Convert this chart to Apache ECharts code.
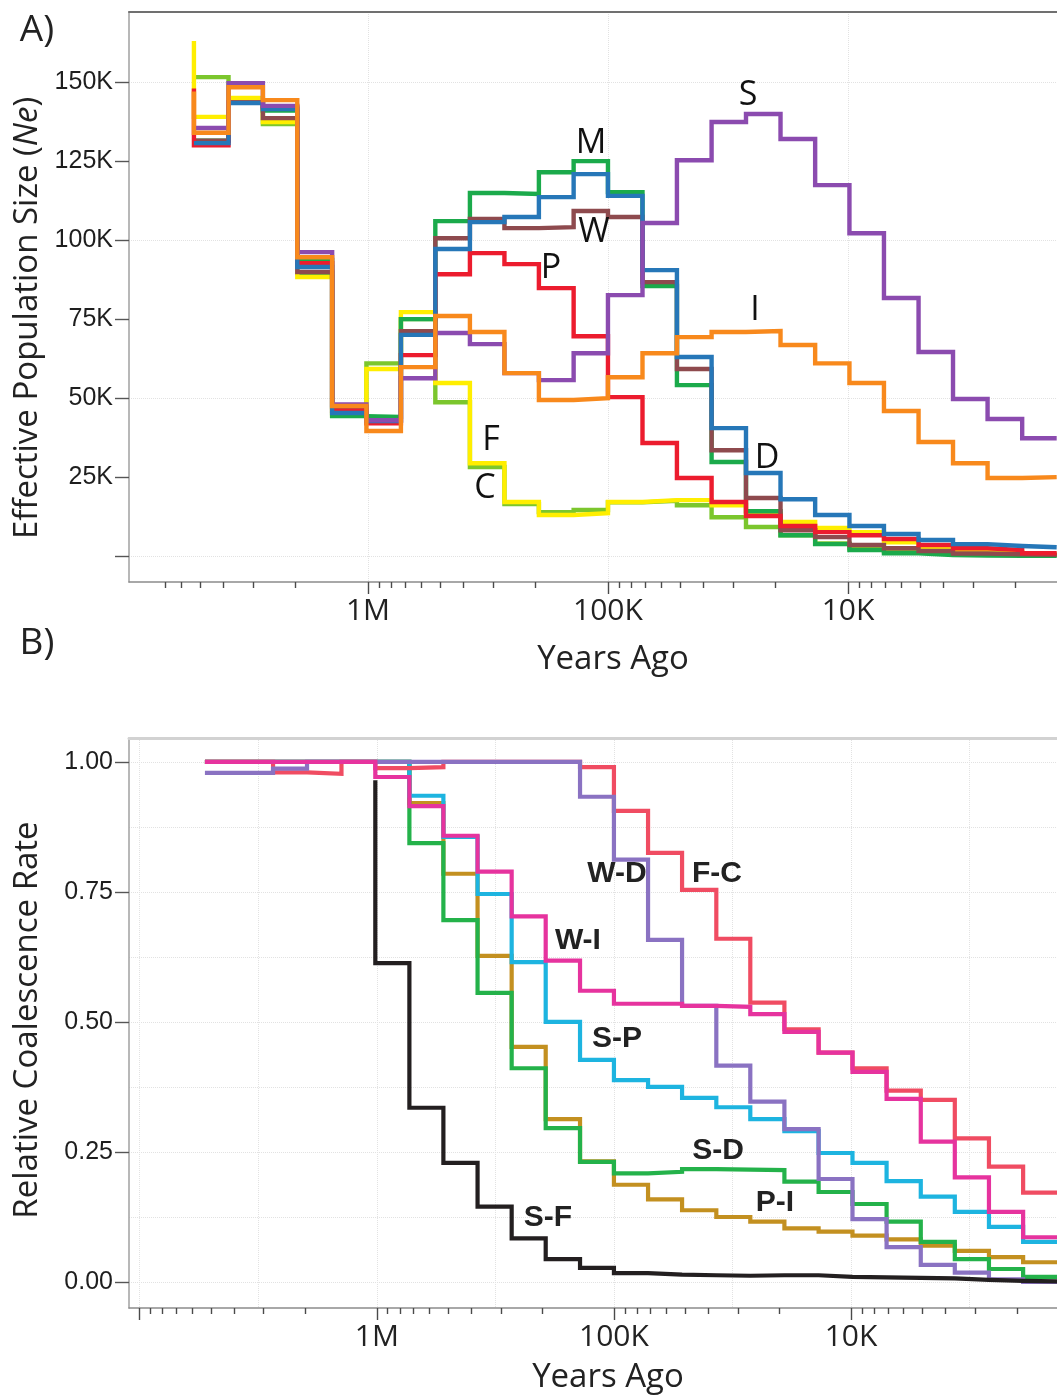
<!DOCTYPE html>
<html>
<head>
<meta charset="utf-8">
<script src="https://cdn.jsdelivr.net/npm/echarts@6/dist/echarts.min.js"></script>
<style>
  html, body { margin: 0; padding: 0; background: #fff; }
  #chart { width: 1057px; height: 1395px; }
</style>
</head>
<body>
<div id="chart"></div>
<script>
// Time-segment boundaries in years ago, oldest first (25 segments).
const segmentEdges = [5310000, 3810000, 2740000, 1970000, 1410000, 1015000, 729000, 524000,
  376000, 270000, 194000, 139000, 100000, 71800, 51600, 37000, 26600, 19100, 13700, 9860,
  7080, 5080, 3650, 2620, 1880, 1350];

// Panel A: effective population size per segment, in thousands.
const neF = [151.6, 144, 136.7, 89.5, 44.5, 61, 75, 48.7, 28.2, 16.5, 13.9, 14.6, 17, 17.5, 16.1, 12.3, 9.2, 6.6, 4, 2.5, 1.5, 0.9, 0.6, 0.4, 0.3];
const neC = [139, 145, 137.4, 88.3, 45, 59.2, 77.2, 54.8, 29.4, 17.1, 13, 13.6, 17.1, 17.7, 17.7, 16.1, 13.3, 10.8, 8.9, 7.6, 4.4, 2.8, 1.9, 1.3, 0.6];
const neM = [131.5, 143.5, 141, 93.7, 44.3, 44, 75, 106, 114.9, 114.6, 121.5, 125, 115.2, 85.5, 54.1, 29.8, 14.2, 6.6, 3.8, 1.9, 0.9, 0.3, 0.2, 0.1, 0.1];
const neW = [131.5, 143.5, 138.6, 89.9, 47.2, 43, 71.2, 100.6, 106.7, 103.8, 104.1, 109.2, 107.3, 86.7, 59.2, 33.5, 18.4, 8.2, 6, 3.5, 2.5, 1.6, 0.8, 0.6, 0.4];
const neP = [130, 143.5, 142, 92.7, 46, 42, 63.6, 89.2, 95.9, 92.4, 84.8, 69.6, 50.3, 35.8, 24.7, 17.1, 12.7, 9.5, 7.6, 6.6, 5.4, 3.5, 2.5, 1.9, 0.9];
const neD = [130.7, 143.4, 141.5, 91.5, 45.3, 42.7, 70, 97.2, 105.7, 107.3, 113.6, 120.9, 114, 90.5, 63, 40.5, 26.3, 18, 13, 9.5, 7, 5.1, 3.8, 3.2, 2.8];
const neS = [135.5, 149.7, 142.5, 96.2, 48, 43, 56.3, 70.6, 67.1, 57.9, 55.7, 64.2, 82.6, 105.4, 125.3, 137.4, 139.9, 132, 117.4, 102.2, 81.7, 64.6, 49.7, 43.4, 37.3];
const neI = [134, 148.4, 144.3, 94.6, 47.5, 39.6, 59.8, 76, 70.9, 57.9, 49.4, 50, 56.6, 64.2, 69.3, 70.9, 71.2, 66.8, 61, 54.8, 45.9, 36.1, 29.4, 24.7, 25];
// Values just before the oldest segment (short leading rise), where present.
const neLeadC = 163;
const neLeadP = 148;
const neLeadI = 147;

// Panel B: relative cross-coalescence rate per segment.
const rcPI = [1, 1, 1, 1, 1, 1, 0.921, 0.785, 0.627, 0.452, 0.313, 0.232, 0.187, 0.159, 0.138, 0.125, 0.116, 0.103, 0.097, 0.089, 0.082, 0.07, 0.06, 0.048, 0.038];
const rcSD = [1, 1, 1, 1, 1, 1, 0.844, 0.696, 0.556, 0.411, 0.296, 0.231, 0.209, 0.212, 0.217, 0.216, 0.215, 0.193, 0.173, 0.15, 0.116, 0.077, 0.044, 0.025, 0.01];
const rcSP = [1, 1, 1, 1, 1, 1, 0.935, 0.856, 0.746, 0.615, 0.5, 0.427, 0.388, 0.375, 0.354, 0.336, 0.313, 0.29, 0.248, 0.229, 0.194, 0.164, 0.135, 0.106, 0.077];
const rcFC = [1, 1, 0.98, 0.977, 1, 0.988, 0.99, 1, 1, 1, 1, 0.99, 0.906, 0.825, 0.754, 0.66, 0.537, 0.486, 0.441, 0.411, 0.368, 0.35, 0.276, 0.222, 0.172];
const rcWD = [0.979, 0.979, 0.987, 1, 1, 1, 1, 1, 1, 1, 1, 0.933, 0.812, 0.658, 0.531, 0.416, 0.347, 0.294, 0.198, 0.121, 0.067, 0.033, 0.018, 0.005, 0];
const rcWI = [1, 1, 1, 1, 1, 0.971, 0.915, 0.858, 0.789, 0.703, 0.618, 0.56, 0.535, 0.535, 0.531, 0.529, 0.515, 0.481, 0.441, 0.404, 0.352, 0.27, 0.201, 0.135, 0.086];
const rcSF = [null, null, null, null, null, 0.613, 0.335, 0.229, 0.145, 0.084, 0.044, 0.027, 0.017, 0.014, 0.013, 0.012, 0.013, 0.013, 0.01, 0.009, 0.008, 0.007, 0.004, 0.002, 0.001];
const rcLeadSF = 0.965;

// Axis tick values.
const neTicks = [0, 25, 50, 75, 100, 125, 150];
const rcTicks = [0, 0.25, 0.5, 0.75, 1];
const yearLabels = [1e6, 1e5, 1e4];

const fontSans = '"Open Sans", "Noto Sans", sans-serif';
const fontTick = '"Liberation Sans", Arial, sans-serif';

// Turn per-segment values into the corner points of a stair line.
function stairPoints(values, lead) {
  const pts = [];
  let started = false;
  for (let i = 0; i < values.length; i++) {
    const v = values[i];
    if (v == null) continue;
    if (!started && lead != null) pts.push([segmentEdges[i], lead]);
    started = true;
    pts.push([segmentEdges[i], v], [segmentEdges[i + 1], v]);
  }
  return pts;
}

function minorYearTicks(mults, decades) {
  const out = [];
  decades.forEach(function (d) { mults.forEach(function (m) { out.push(m * d); }); });
  return out;
}

function fmtYears(v) {
  if (v >= 1e6) return Math.round(v / 1e6) + 'M';
  return Math.round(v / 1e3) + 'K';
}

const allMults = [2, 3, 4, 5, 6, 7, 8, 9];
const minorA = [2e6, 3e6, 4e6, 5e6, 6e6, 7e6].concat(minorYearTicks(allMults, [1e5, 1e4, 1e3]));
const minorB = minorYearTicks(allMults, [1e6, 1e5, 1e4, 1e3]);

function xAxesFor(g, lo, hi, majors, minors, splits, borderStyle) {
  const base = { type: 'log', logBase: 10, gridIndex: g, min: lo, max: hi, inverse: true };
  return [
    Object.assign({}, base, {
      position: 'bottom',
      axisLine: { show: true, onZero: false, lineStyle: { color: '#8c8c8c', width: 1.5 } },
      axisTick: { show: true, customValues: majors, length: 12, lineStyle: { color: '#4a4a4a', width: 1.4 } },
      axisLabel: { show: true, customValues: yearLabels, formatter: fmtYears, margin: 14,
        fontSize: 30, fontFamily: fontSans, color: '#222' },
      splitLine: { show: false }
    }),
    Object.assign({}, base, {
      position: 'bottom',
      axisLine: { show: false, onZero: false },
      axisTick: { show: true, customValues: minors, length: 6, lineStyle: { color: '#4a4a4a', width: 1.4 } },
      axisLabel: { show: false },
      splitLine: { show: false }
    }),
    Object.assign({}, base, {
      position: 'bottom',
      axisLine: { show: false, onZero: false },
      axisTick: { show: false, customValues: splits },
      axisLabel: { show: false },
      splitLine: { show: true, lineStyle: { color: '#e2e2e2', width: 1, type: 'dotted' } }
    }),
    Object.assign({}, base, {
      position: 'top',
      axisLine: { show: true, onZero: false, lineStyle: borderStyle },
      axisTick: { show: false },
      axisLabel: { show: false },
      splitLine: { show: false }
    })
  ];
}

function yAxesFor(g, lo, hi, ticks, labels, fmt, splits) {
  const base = { type: 'value', gridIndex: g, min: lo, max: hi, position: 'left' };
  return [
    Object.assign({}, base, {
      axisLine: { show: true, onZero: false, lineStyle: { color: '#a0a0a0', width: 1.5 } },
      axisTick: { show: true, customValues: ticks, length: 14, lineStyle: { color: '#555', width: 1.4 } },
      axisLabel: { show: true, customValues: labels, formatter: fmt, margin: 16,
        fontSize: 25, fontFamily: fontTick, color: '#1e1e1e' },
      splitLine: { show: false }
    }),
    Object.assign({}, base, {
      axisLine: { show: false, onZero: false },
      axisTick: { show: false, customValues: splits },
      axisLabel: { show: false },
      splitLine: { show: true, lineStyle: { color: '#e2e2e2', width: 1, type: 'dotted' } }
    })
  ];
}

function stairSeries(name, values, lead, color, xi, yi, width, tags) {
  const s = {
    name: name, type: 'line', xAxisIndex: xi, yAxisIndex: yi,
    data: stairPoints(values, lead), showSymbol: false, symbol: 'none', silent: true,
    lineStyle: { color: color, width: width, join: 'miter', cap: 'butt' },
    animation: false
  };
  if (tags) {
    s.markPoint = {
      symbol: 'circle', symbolSize: 1, silent: true, animation: false,
      itemStyle: { color: 'rgba(0,0,0,0)' },
      label: tags.label,
      data: tags.points
    };
  }
  return s;
}

const tagA = { show: true, position: 'inside', formatter: '{b}', fontSize: 34, fontFamily: fontSans, color: '#111' };
const tagB = { show: true, position: 'inside', formatter: '{b}', fontSize: 30, fontWeight: 'bold',
  fontFamily: '"Liberation Sans", Arial, sans-serif', color: '#222' };

const xAxes = xAxesFor(0, 1346, 9.9e6, yearLabels, minorA, [1e6, 1e5, 1e4],
  { color: '#707070', width: 2 })
  .concat(xAxesFor(1, 1353, 1.11e7, [1e7, 1e6, 1e5, 1e4], minorB,
    [1e7, 3162278, 1e6, 316228, 1e5, 31623, 1e4, 3162], { color: '#d2d2d2', width: 3 }));

const yAxes = yAxesFor(0, -8.2, 172.2, neTicks, neTicks.slice(1), function (v) { return v + 'K'; }, [0, 50, 100, 150])
  .concat(yAxesFor(1, -0.05, 1.046, rcTicks, rcTicks, function (v) { return v.toFixed(2); },
    [0, 0.125, 0.25, 0.375, 0.5, 0.625, 0.75, 0.875, 1]));

const wA = 4.4;
const wB = 4.2;
const series = [
  stairSeries('F', neF, null, '#7BC62D', 0, 0, wA),
  stairSeries('C', neC, neLeadC, '#FFEE00', 0, 0, wA),
  stairSeries('M', neM, null, '#1BAA4B', 0, 0, wA),
  stairSeries('W', neW, null, '#8E4A4E', 0, 0, wA),
  stairSeries('P', neP, neLeadP, '#EC1C2E', 0, 0, wA),
  stairSeries('D', neD, null, '#2677B8', 0, 0, wA),
  stairSeries('S', neS, null, '#8B4BAF', 0, 0, wA),
  stairSeries('I', neI, neLeadI, '#F8891C', 0, 0, wA, {
    label: tagA,
    points: [
      { name: 'S', coord: [26100, 145.9] },
      { name: 'M', coord: [117700, 130.7] },
      { name: 'W', coord: [114400, 102.5] },
      { name: 'P', coord: [172800, 91.2] },
      { name: 'I', coord: [24400, 77.9] },
      { name: 'F', coord: [307300, 36.7] },
      { name: 'C', coord: [325500, 21.5] },
      { name: 'D', coord: [21750, 31] }
    ]
  }),
  stairSeries('P-I', rcPI, null, '#C39020', 4, 2, wB),
  stairSeries('S-D', rcSD, null, '#24B24A', 4, 2, wB),
  stairSeries('S-P', rcSP, null, '#1DB4E0', 4, 2, wB),
  stairSeries('F-C', rcFC, null, '#F04C62', 4, 2, wB),
  stairSeries('W-D', rcWD, null, '#8A72C2', 4, 2, wB),
  stairSeries('W-I', rcWI, null, '#E6339E', 4, 2, wB),
  stairSeries('S-F', rcSF, rcLeadSF, '#231F20', 4, 2, wB, {
    label: tagB,
    points: [
      { name: 'W-D', coord: [97100, 0.785] },
      { name: 'F-C', coord: [36770, 0.785] },
      { name: 'W-I', coord: [141900, 0.656] },
      { name: 'S-P', coord: [97100, 0.467] },
      { name: 'S-D', coord: [36400, 0.252] },
      { name: 'P-I', coord: [20930, 0.152] },
      { name: 'S-F', coord: [189900, 0.123] }
    ]
  })
];

function txt(x, y, text, size, extra) {
  return Object.assign({
    type: 'text', x: x, y: y, silent: true,
    style: Object.assign({
      text: text, fontSize: size, fontFamily: fontSans, fill: '#222',
      align: 'center', verticalAlign: 'middle', textAlign: 'center', textVerticalAlign: 'middle'
    }, extra && extra.style)
  }, extra && extra.el);
}

const option = {
  animation: false,
  backgroundColor: '#fff',
  grid: [
    { left: 129, top: 12, right: 0, bottom: 813, containLabel: false, outerBoundsMode: 'none' },
    { left: 129, top: 738, right: 0, bottom: 87, containLabel: false, outerBoundsMode: 'none' }
  ],
  xAxis: xAxes,
  yAxis: yAxes,
  series: series,
  graphic: [
    txt(37, 30, 'A)', 37),
    txt(37, 643, 'B)', 37),
    txt(613, 660, 'Years Ago', 33),
    txt(608, 1378, 'Years Ago', 33),
    txt(28, 318, '', 33, {
      el: { rotation: Math.PI / 2 },
      style: {
        text: '{a|Effective Population Size (}{b|Ne}{a|)}',
        rich: {
          a: { fontSize: 33, fontFamily: fontSans, color: '#222' },
          b: { fontSize: 33, fontFamily: fontSans, fontStyle: 'italic', color: '#222' }
        }
      }
    }),
    txt(28, 1020, 'Relative Coalescence Rate', 33, { el: { rotation: Math.PI / 2 } })
  ]
};

const chart = echarts.init(document.getElementById('chart'), null, { renderer: 'canvas' });
chart.setOption(option);
</script>
</body>
</html>
